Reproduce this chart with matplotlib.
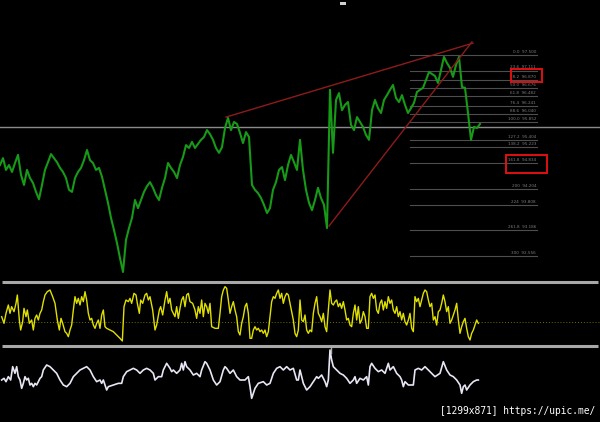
import numpy as np
import matplotlib
matplotlib.use("Agg")
import matplotlib.pyplot as plt
from matplotlib.patches import Rectangle
from matplotlib.lines import Line2D

# ---------------- data ----------------
# price series (one value every 9 bars)
price_close = [94.79, 94.96, 94.67, 94.79, 94.62, 94.84, 95.04, 94.55, 94.30, 94.67,
     94.47, 94.35, 94.13, 93.95, 94.30, 94.67, 94.86, 95.06, 94.96, 94.86,
     94.72, 94.62, 94.47, 94.18, 94.13, 94.47, 94.62, 94.72, 94.91, 95.16,
     94.91, 94.84, 94.67, 94.72, 94.50, 94.18, 93.86, 93.49, 93.19, 92.87,
     92.50, 92.16, 92.95, 93.24, 93.49, 93.93, 93.73, 93.93, 94.13, 94.27,
     94.37, 94.23, 94.05, 93.93, 94.23, 94.47, 94.84, 94.72, 94.62, 94.47,
     94.79, 94.99, 95.28, 95.21, 95.36, 95.21, 95.31, 95.41, 95.48, 95.65,
     95.55, 95.41, 95.21, 95.09, 95.23, 95.70, 95.95, 95.65, 95.85, 95.80,
     95.58, 95.33, 95.60, 95.48, 94.30, 94.18, 94.10, 93.98, 93.81, 93.61,
     93.73, 94.18, 94.37, 94.67, 94.74, 94.42, 94.79, 95.04, 94.86, 94.67,
     95.41, 94.67, 94.18, 93.86, 93.68, 93.93, 94.23, 93.98, 93.81, 93.24,
     96.64, 95.09, 96.39, 96.56, 96.14, 96.27, 96.34, 95.78, 95.65, 95.97,
     95.85, 95.73, 95.53, 95.41, 96.14, 96.39, 96.19, 96.07, 96.39, 96.51,
     96.64, 96.76, 96.44, 96.34, 96.51, 96.27, 96.07, 96.19, 96.32, 96.59,
     96.64, 96.69, 96.88, 97.08, 97.03, 96.98, 96.81, 97.13, 97.45, 97.30,
     97.18, 96.96, 97.25, 97.45, 96.71, 96.69, 96.07, 95.41, 95.73, 95.70,
     95.80]
price_bar_step = 9

# yellow oscillator (bar, value)
osc1_bars = [5, 12, 18, 25, 30, 35, 42, 48, 52, 58, 62, 68, 72, 78, 82, 88, 95, 100, 105, 110,
             115, 120, 125, 130, 135, 142, 150, 158, 165, 172, 178, 183, 188, 195, 200, 205, 210, 215, 220, 225,
             230, 235, 240, 245, 250, 255, 260, 265, 270, 275, 280, 285, 290, 295, 300, 305, 310, 315, 320, 330,
             340, 350, 360, 367, 372, 378, 385, 390, 395, 402, 408, 412, 418, 422, 428, 435, 440, 445, 450, 458,
             465, 470, 478, 482, 488, 495, 500, 505, 510, 515, 520, 525, 530, 535, 540, 545, 550, 555, 560, 565,
             570, 578, 585, 590, 595, 600, 605, 610, 615, 620, 625, 630, 635, 645, 655, 660, 665, 670, 675, 680,
             685, 690, 695, 700, 705, 710, 715, 720, 725, 730, 735, 740, 745, 750, 755, 760, 765, 770, 775, 780,
             785, 790, 795, 800, 805, 810, 815, 820, 825, 830, 835, 840, 845, 850, 855, 860, 865, 870, 880, 885,
             890, 895,
             900, 905, 910, 915, 920, 925, 930, 935, 940, 945, 950, 955, 960, 965, 970, 975, 980, 985, 990, 995,
             1000, 1005, 1010, 1015, 1020, 1025, 1030, 1035, 1040, 1045, 1050, 1055, 1060, 1065, 1070, 1075, 1080, 1085, 1090, 1095,
             1100, 1105, 1110, 1115, 1120, 1125, 1130, 1135, 1140, 1145, 1150, 1155, 1160, 1165, 1170, 1175, 1180, 1185, 1190, 1195,
             1200, 1205, 1210, 1215, 1220, 1225, 1230, 1235, 1240, 1245, 1250, 1255, 1260, 1265, 1270, 1275, 1280, 1285, 1290, 1295,
             1300, 1305, 1310, 1315, 1320, 1325, 1330, 1335, 1340, 1345, 1350, 1355, 1360, 1365, 1370, 1375, 1380, 1385, 1390, 1395,
             1400, 1405, 1410, 1415, 1420, 1425, 1430, 1435]
osc1_vals = [44, 34, 49, 61.5, 49, 59, 51.5, 64, 76.5, 39, 24, 36.5, 56.5, 44, 54, 34, 39, 24, 41.5, 46.5,
             39, 49, 54, 66.5, 76.5, 81.5, 84, 74, 64, 39, 24, 41.5, 34, 21.5, 19, 14, 24, 31.5, 54, 74,
             64, 71.5, 61.5, 74, 66.5, 81.5, 69, 49, 39, 41.5, 31.5, 26.5, 34, 39, 26.5, 46.5, 54, 29, 26.5, 24,
             21.5, 16.5, 11.5, 7.5, 59, 69, 66.5, 71.5, 64, 79, 76.5, 64, 49, 69, 64, 76.5, 79, 69, 74, 54,
             24, 31.5, 54, 59, 46.5, 69, 81.5, 64, 71.5, 54, 49, 44, 59, 41.5, 56.5, 69, 74, 59, 76.5, 79,
             66.5, 64, 54, 41.5, 59, 49, 69, 44, 64, 59, 49, 64, 29, 26.5, 26.5, 49, 74, 84, 89, 86.5,
             69, 49, 59, 66.5, 54, 44, 21.5, 16.5, 34, 44, 59, 64, 49, 11.5, 11.5, 24, 29, 24, 26.5, 21.5,
             24, 19, 24, 14, 21.5, 44, 66.5, 74, 71.5, 79, 84, 71.5, 79, 64, 74, 79, 76.5, 64, 39, 19,
             14, 24,
             69, 39, 36.5, 46.5, 24, 19, 24, 21.5, 49, 64, 74, 49, 44, 36.5, 49, 29, 21.5, 54, 84, 64,
             61.5, 66.5, 69, 59, 64, 56.5, 66.5, 54, 39, 41.5, 31.5, 29, 49, 61.5, 39, 59, 34, 39, 51.5, 44,
             26.5, 26.5, 74, 79, 71.5, 76.5, 54, 49, 64, 69, 54, 66.5, 56.5, 74, 64, 69, 54, 49, 59, 44,
             51.5, 39, 49, 36.5, 31.5, 39, 49, 26.5, 21.5, 74, 66.5, 71.5, 59, 69, 79, 84, 81.5, 69, 59, 64,
             39, 44, 31.5, 51.5, 54, 64, 76.5, 66.5, 51.5, 59, 34, 39, 46.5, 54, 64, 39, 19, 29, 36.5, 41.5,
             26.5, 14, 9, 19, 24, 31.5, 39, 34]
osc1_level = 35.5

# white oscillator (bar, value)
osc2_bars = [5, 12, 18, 25, 32, 38, 45, 50, 55, 60, 65, 70, 75, 80, 85, 90, 95, 100, 105, 110,
             115, 120, 125, 130, 140, 150, 160, 170, 180, 190, 200, 210, 220, 230, 240, 250, 260, 270, 280, 290,
             300, 305, 310, 315, 320, 325, 340, 355, 365, 370, 380, 390, 400, 410, 420, 430, 440, 450, 460, 465,
             475, 485, 490, 500, 510, 515, 520, 530, 540, 545, 550, 555, 560, 570, 580, 590, 600, 605, 615, 620,
             630, 640, 650, 660, 670, 675, 680, 690, 700, 710, 720, 735, 740, 745, 750, 755, 760, 765, 775, 790,
             800, 810, 820, 830, 840, 850, 860, 870, 880, 890, 895,
             900, 905, 910, 920, 930, 940, 950, 955, 965, 975, 980, 985, 990, 995, 1000, 1010, 1020, 1030, 1040, 1050,
             1060, 1065, 1070, 1080, 1090, 1100, 1105, 1110, 1115, 1125, 1135, 1145, 1155, 1165, 1170, 1180, 1190, 1200, 1205, 1210,
             1215, 1225, 1240, 1245, 1255, 1265, 1275, 1285, 1295, 1305, 1320, 1330, 1340, 1350, 1360, 1370, 1380, 1385, 1390, 1395,
             1400, 1410, 1420, 1430, 1435]
osc2_vals = [35, 37.5, 32.5, 40, 35, 55, 45, 55, 40, 35, 22.5, 30, 40, 35, 37.5, 27.5, 30, 25, 30, 27.5,
             32.5, 37.5, 40, 50, 57.5, 55, 50, 45, 35, 27.5, 25, 30, 40, 45, 50, 52.5, 55, 50, 40, 32.5,
             35, 30, 35, 27.5, 20, 25, 27.5, 30, 30, 40, 47.5, 50, 52.5, 50, 45, 50, 52.5, 50, 45, 35,
             40, 40, 50, 60, 52.5, 47.5, 50, 45, 50, 60, 50, 62.5, 55, 50, 42.5, 45, 40, 50, 62.5, 60,
             50, 35, 27.5, 32.5, 50, 55, 52.5, 45, 50, 40, 35, 35, 37.5, 40, 25, 7.5, 15, 22.5, 30, 32.5,
             27.5, 30, 45, 52.5, 55, 50, 55, 50, 52.5, 35, 35,
             50, 40, 30, 20, 25, 32.5, 40, 37.5, 42.5, 32.5, 25, 35, 80, 65, 55, 50, 45, 42.5, 37.5, 30,
             35, 40, 30, 37.5, 35, 40, 27.5, 55, 60, 52.5, 47.5, 50, 45, 60, 50, 55, 45, 40, 35, 25,
             32.5, 27.5, 27.5, 50, 52.5, 50, 55, 50, 45, 40, 45, 62.5, 50, 42.5, 40, 35, 27.5, 15, 25, 27.5,
             20, 27.5, 32.5, 35, 35]

# Fibonacci levels
fib_pct_labels = ["0.0", "23.6", "38.2", "50.0", "61.8", "76.4", "88.6", "100.0",
                  "127.2", "138.2", "161.8", "200", "224", "261.8", "300"]
fib_prices = [97.500, 97.111, 96.870, 96.676, 96.482, 96.241, 96.040, 95.852,
              95.404, 95.223, 94.834, 94.204, 93.808, 93.186, 92.556]
fib_bar_start, fib_bar_end = 1230, 1611
highlighted_levels = ["38.2", "161.8"]

# trend lines (bar, price)
upper_trend_bars = [678, 1419]
upper_trend_prices = [95.97, 97.79]
lower_trend_bars = [987, 1416]
lower_trend_prices = [93.29, 97.82]

current_price_level = 95.73

# ---------------- figure ----------------
W, H = 600, 422
fig = plt.figure(figsize=(W / 100, H / 100), dpi=100, facecolor="black")

def add_ax(top_px, bottom_px):
    a = fig.add_axes([0, 1 - bottom_px / H, 1, (bottom_px - top_px) / H])
    a.set_facecolor("black")
    a.set_axis_off()
    a.set_xlim(0, 1800)
    return a

ax = add_ax(0, 282)
ax.set_ylim(91.913, 98.85)
ax1 = add_ax(282, 346)
ax1.set_ylim(0, 96)
ax2 = add_ax(346, 422)
ax2.set_ylim(-28, 86)

# main price chart
ax.axhline(current_price_level, color="#8a8a8a", lw=1.0, zorder=1)
for lab, p in zip(fib_pct_labels, fib_prices):
    ax.plot([fib_bar_start, fib_bar_end], [p, p], color="#4e4e4e", lw=0.8, zorder=1)
    ax.text(fib_bar_end - 3, p + 0.03, f"{lab}  {p:.3f}", color="#7c7c7c", fontsize=3.0,
            ha="right", va="bottom", zorder=3)
    if lab in highlighted_levels:
        if lab == "38.2":
            ax.add_patch(Rectangle((1533, p - 0.04), 93, 0.32, fill=False, ec="#e01010", lw=1.4, zorder=4))
        else:
            ax.add_patch(Rectangle((1518, p - 0.24), 123, 0.45, fill=False, ec="#e01010", lw=1.4, zorder=4))

price_bars = np.arange(len(price_close)) * price_bar_step
ax.plot(price_bars, price_close, color="#179a17", lw=1.5, zorder=2)
ax.plot(upper_trend_bars, upper_trend_prices, color="#8e1b1b", lw=1.0, zorder=3)
ax.plot(lower_trend_bars, lower_trend_prices, color="#8e1b1b", lw=1.0, zorder=3)

# yellow oscillator
ax1.axhline(osc1_level, color="#6e6e00", lw=0.7, ls=(0, (1, 2)))
ax1.plot(osc1_bars, osc1_vals, color="#e0e000", lw=1.0)
for yv in (96, 0):
    ax1.plot([6, 1794], [yv, yv], color="#a8a8a8", lw=2.2, clip_on=False, solid_capstyle="butt")

# white oscillator
ax2.plot(osc2_bars, osc2_vals, color="#e6e6f5", lw=1.2)

# small cursor marks
fig.add_artist(Rectangle((340 / W, 1 - 5 / H), 6 / W, 3 / H, transform=fig.transFigure,
                         fc="#d0d0d0", ec="none"))
fig.add_artist(Line2D([331 / W, 331 / W], [1 - 347 / H, 1 - 353 / H], transform=fig.transFigure,
                      color="#b0b0b0", lw=1))

# watermark
fig.text(595 / W, 1 - 411 / H, "[1299x871] https://upic.me/", color="white",
         fontsize=6.9, family="DejaVu Sans Mono", ha="right", va="center")

fig.savefig("out.png", dpi=100, facecolor="black")
